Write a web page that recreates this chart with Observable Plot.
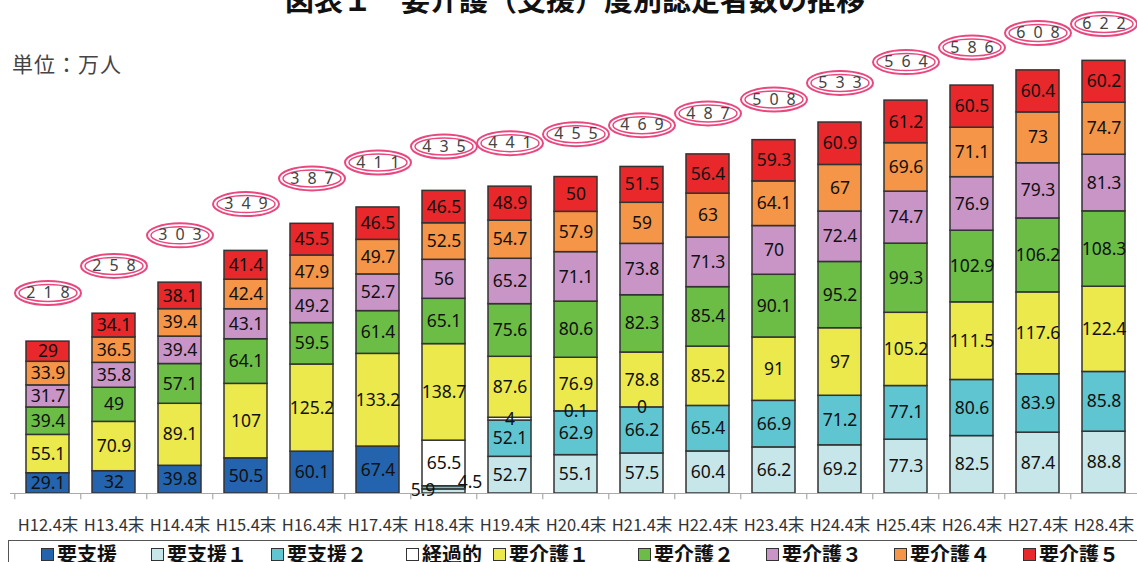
<!DOCTYPE html>
<html>
<head>
<meta charset="utf-8">
<script src="https://cdn.jsdelivr.net/npm/d3@7"></script>
<script src="https://cdn.jsdelivr.net/npm/@observablehq/plot@0.6"></script>
<style>
  html, body { margin: 0; padding: 0; background: #fff; overflow: hidden; }
  #wrap { position: relative; width: 1137px; height: 562px; overflow: hidden; font-family: "Noto Sans CJK JP", "Noto Sans", sans-serif; }
  #title { position: absolute; top: -16px; left: 0; width: 1150px; text-align: center; font-size: 29px; font-weight: bold; line-height: 1; color: #111; white-space: nowrap; }
  #unit { position: absolute; top: 52px; left: 12px; font-size: 21px; line-height: 1.1; color: #444; letter-spacing: 1px; }
  #chart { position: absolute; top: 0; left: 0; }
  #legend { position: absolute; top: 540px; left: 8px; width: 1140px; height: 40px; border: 1.5px solid #555; box-sizing: border-box; }
  .item { position: absolute; top: 0; display: flex; align-items: center; font-size: 20px; font-weight: bold; line-height: 26px; color: #111; white-space: nowrap; }
  .sw { width: 11px; height: 11px; border: 1px solid #333; margin-right: 3px; }
</style>
</head>
<body>
<div id="wrap">
  <div id="chart"></div>
  <div id="title">図表１　要介護（支援）度別認定者数の推移</div>
  <div id="unit">単位：万人</div>
  <div id="legend"></div>
</div>
<script>
// ---------- data ----------
const categories = ["H12.4末","H13.4末","H14.4末","H15.4末","H16.4末","H17.4末","H18.4末","H19.4末","H20.4末","H21.4末","H22.4末","H23.4末","H24.4末","H25.4末","H26.4末","H27.4末","H28.4末"];
const seriesNames = ["要支援","要支援１","要支援２","経過的","要介護１","要介護２","要介護３","要介護４","要介護５"];
const shien   = [29.1,32,39.8,50.5,60.1,67.4,null,null,null,null,null,null,null,null,null,null,null];
const shien1  = [null,null,null,null,null,null,5.9,52.7,55.1,57.5,60.4,66.2,69.2,77.3,82.5,87.4,88.8];
const shien2  = [null,null,null,null,null,null,4.5,52.1,62.9,66.2,65.4,66.9,71.2,77.1,80.6,83.9,85.8];
const keika   = [null,null,null,null,null,null,65.5,4,0.1,0,null,null,null,null,null,null,null];
const kaigo1  = [55.1,70.9,89.1,107,125.2,133.2,138.7,87.6,76.9,78.8,85.2,91,97,105.2,111.5,117.6,122.4];
const kaigo2  = [39.4,49,57.1,64.1,59.5,61.4,65.1,75.6,80.6,82.3,85.4,90.1,95.2,99.3,102.9,106.2,108.3];
const kaigo3  = [31.7,35.8,39.4,43.1,49.2,52.7,56,65.2,71.1,73.8,71.3,70,72.4,74.7,76.9,79.3,81.3];
const kaigo4  = [33.9,36.5,39.4,42.4,47.9,49.7,52.5,54.7,57.9,59,63,64.1,67,69.6,71.1,73,74.7];
const kaigo5  = [29,34.1,38.1,41.4,45.5,46.5,46.5,48.9,50,51.5,56.4,59.3,60.9,61.2,60.5,60.4,60.2];
const totals  = [218,258,303,349,387,411,435,441,455,469,487,508,533,564,586,608,622];

// ---------- styling ----------
const seriesValues = [shien, shien1, shien2, keika, kaigo1, kaigo2, kaigo3, kaigo4, kaigo5];
const colors = ["#2463ad","#c6e6ea","#5fc5d1","#ffffff","#ece94c","#6bbd46","#c994c6","#f49548","#e8282b"];
const pink = "#e9487f";
const legendLeft = [32, 142, 262, 397, 484, 629, 757, 885, 1014];

const rows = [];
seriesNames.forEach((s, j) => seriesValues[j].forEach((v, i) => {
  if (v != null) rows.push({cat: categories[i], series: s, value: v});
}));
const totalRows = categories.map((c, i) => ({cat: c, total: totals[i], i}));

const special = {"H18.4末|要支援１": "a", "H18.4末|要支援２": "b"};
const key = d => d.cat + "|" + d.series;

// fixed-size ellipse symbols (size argument ignored)
const makeEllipse = (rx, ry) => ({
  draw(ctx) {
    const k = 0.5523;
    ctx.moveTo(rx, 0);
    ctx.bezierCurveTo(rx, ry * k, rx * k, ry, 0, ry);
    ctx.bezierCurveTo(-rx * k, ry, -rx, ry * k, -rx, 0);
    ctx.bezierCurveTo(-rx, -ry * k, -rx * k, -ry, 0, -ry);
    ctx.bezierCurveTo(rx * k, -ry, rx, -ry * k, rx, 0);
    ctx.closePath();
  }
});
const outerEllipse = makeEllipse(33, 12);
const innerEllipse = makeEllipse(29, 8.5);

const xRange = [10, 1140];
const step = (xRange[1] - xRange[0]) / categories.length;
const circleY = d => d.total + 70 - 1.1 * d.i;

const chart = Plot.plot({
  width: 1137,
  height: 540,
  marginLeft: 10, marginRight: 0, marginTop: 0, marginBottom: 47,
  x: {domain: categories, range: xRange, paddingInner: 0.35, paddingOuter: 0.175, axis: null},
  y: {domain: [0, d3.max(totals)], range: [493, 60], axis: null},
  color: {domain: seriesNames, range: colors},
  style: {fontFamily: "Noto Sans", background: "white", overflow: "visible"},
  marks: [
    Plot.barY(rows, Plot.stackY({x: "cat", y: "value", z: "series", fill: "series", stroke: "#333", strokeWidth: 1.5})),
    Plot.ruleY([0], {stroke: "#aaa", strokeWidth: 1.2}),
    Plot.ruleX(categories, {x: d => d, dx: -step / 2, y1: 0, y2: -9, stroke: "#aaa", strokeWidth: 1.2}),
    Plot.text(rows, Plot.stackY({x: "cat", y: "value", z: "series",
      text: d => special[key(d)] ? null : String(d.value), fontSize: 17.5, fill: "#111"})),
    Plot.text(rows, Plot.stackY({x: "cat", y: "value", z: "series",
      text: d => special[key(d)] === "a" ? String(d.value) : null, dx: -21, dy: -1, fontSize: 17.5, fill: "#111"})),
    Plot.text(rows, Plot.stackY({x: "cat", y: "value", z: "series",
      text: d => special[key(d)] === "b" ? String(d.value) : null, dx: 26, dy: -5, fontSize: 17.5, fill: "#111"})),
    Plot.text(categories, {x: d => d, y: 0, dy: 32, text: d => d, fontSize: 16.5, fill: "#333", fontFamily: "Noto Sans CJK JP"}),
    Plot.dot(totalRows, {x: "cat", y: circleY, r: 10, symbol: outerEllipse, stroke: pink, strokeWidth: 2, fill: "white"}),
    Plot.dot(totalRows, {x: "cat", y: circleY, r: 8, symbol: innerEllipse, stroke: pink, strokeWidth: 1.5, fill: "none"}),
    Plot.text(totalRows, {x: "cat", y: circleY, text: d => String(d.total).split("").join("\u2002"), fontSize: 16, fill: "#444"})
  ]
});
document.getElementById("chart").appendChild(chart);

const legend = document.getElementById("legend");
seriesNames.forEach((s, j) => {
  const it = document.createElement("div");
  it.className = "item";
  it.style.left = legendLeft[j] + "px";
  const sw = document.createElement("span");
  sw.className = "sw";
  sw.style.background = colors[j];
  it.appendChild(sw);
  it.appendChild(document.createTextNode(s));
  legend.appendChild(it);
});
</script>
</body>
</html>
